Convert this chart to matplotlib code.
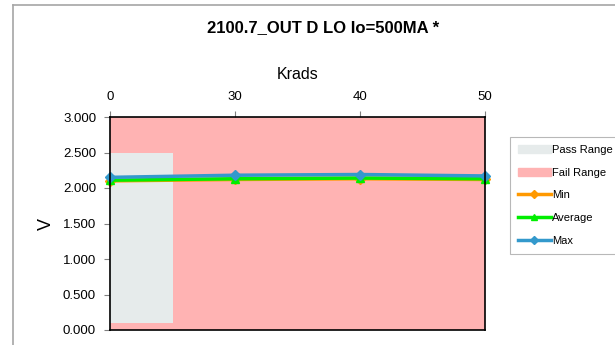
import matplotlib
matplotlib.use("Agg")
import matplotlib.pyplot as plt
from matplotlib.patches import Rectangle
from matplotlib.lines import Line2D

plt.rcParams['font.family'] = ['Liberation Sans', 'DejaVu Sans']

# Radiation steps (Krads) and measured output voltages
krads = ["0", "30", "40", "50"]
v_min = [2.10, 2.12, 2.13, 2.12]
v_avg = [2.11, 2.13, 2.14, 2.13]
v_max = [2.15, 2.18, 2.19, 2.17]

# Pass window (only defined for the first step) and full fail band
pass_low = [0.10]
pass_high = [2.50]
fail_top = [3.0, 3.0, 3.0, 3.0]

title = "2100.7_OUT D LO Io=500MA *"
y_ticks = [0.0, 0.5, 1.0, 1.5, 2.0, 2.5, 3.0]

fig = plt.figure(figsize=(6.15, 3.45), dpi=100)
fig.patch.set_facecolor("white")

# chart-area frame
fig.add_artist(Line2D([13/615, 1.0], [1 - 5/345, 1 - 5/345], color="#A6A6A6", lw=1.2))
fig.add_artist(Line2D([13/615, 13/615], [0.0, 1 - 5/345], color="#A6A6A6", lw=1.2))

ax = fig.add_axes([110/615, 1 - 330/345, 375/615, 213/345])
x = list(range(len(krads)))

fail_color = "#FFB3B3"
pass_color = "#E6EBEB"
ax.bar(x, fail_top, width=1.0, color=fail_color, edgecolor="none", zorder=1)
ax.bar(x[:len(pass_low)], [h - l for h, l in zip(pass_high, pass_low)],
       bottom=pass_low, width=1.0, color=pass_color, edgecolor="none", zorder=2)

ax.plot(x, v_min, color="#FF9900", lw=2.5, marker="D", ms=5, zorder=4, clip_on=False)
ax.plot(x, v_avg, color="#00EE00", lw=2.5, marker="^", ms=6, zorder=5, clip_on=False)
ax.plot(x, v_max, color="#3399CC", lw=2.5, marker="D", ms=5.5, zorder=6, clip_on=False)

ax.set_xlim(0, len(krads) - 1)
ax.set_ylim(0, 3.0)
ax.set_yticks(y_ticks)
ax.set_yticklabels([f"{v:.3f}" for v in y_ticks], fontsize=9.5)
ax.xaxis.tick_top()
ax.xaxis.set_label_position("top")
ax.set_xticks(x)
ax.set_xticklabels(krads, fontsize=9.5)
ax.tick_params(axis="both", direction="out", length=4, width=0.8, color="#808080")
ax.tick_params(axis="x", pad=6)
ax.tick_params(axis="y", pad=6)
ax.set_xlabel("Krads", fontsize=11.5, labelpad=9)
ax.set_ylabel("V", fontsize=13, labelpad=6)
for s in ax.spines.values():
    s.set_color("black")
    s.set_linewidth(1.2)
    s.set_zorder(7)

fig.text(323/615, 1 - 28/345, title, ha="center", va="center",
         fontsize=12, fontweight="bold")

handles = [
    Rectangle((0, 0), 1, 1, color=pass_color),
    Rectangle((0, 0), 1, 1, color=fail_color),
    Line2D([], [], color="#FF9900", lw=2.5, marker="D", ms=4),
    Line2D([], [], color="#00EE00", lw=2.5, marker="^", ms=5),
    Line2D([], [], color="#3399CC", lw=2.5, marker="D", ms=4),
]
labels = ["Pass Range", "Fail Range", "Min", "Average", "Max"]
leg = fig.legend(handles, labels, loc="upper left",
                 bbox_to_anchor=(510/615, 1 - 137/345),
                 fontsize=8, frameon=True, fancybox=False,
                 edgecolor="#A6A6A6", borderpad=0.7, labelspacing=1.15,
                 handlelength=3.0, handletextpad=0.1, borderaxespad=0)
leg.get_frame().set_linewidth(0.8)

fig.savefig("out.png", dpi=100, facecolor="white")
